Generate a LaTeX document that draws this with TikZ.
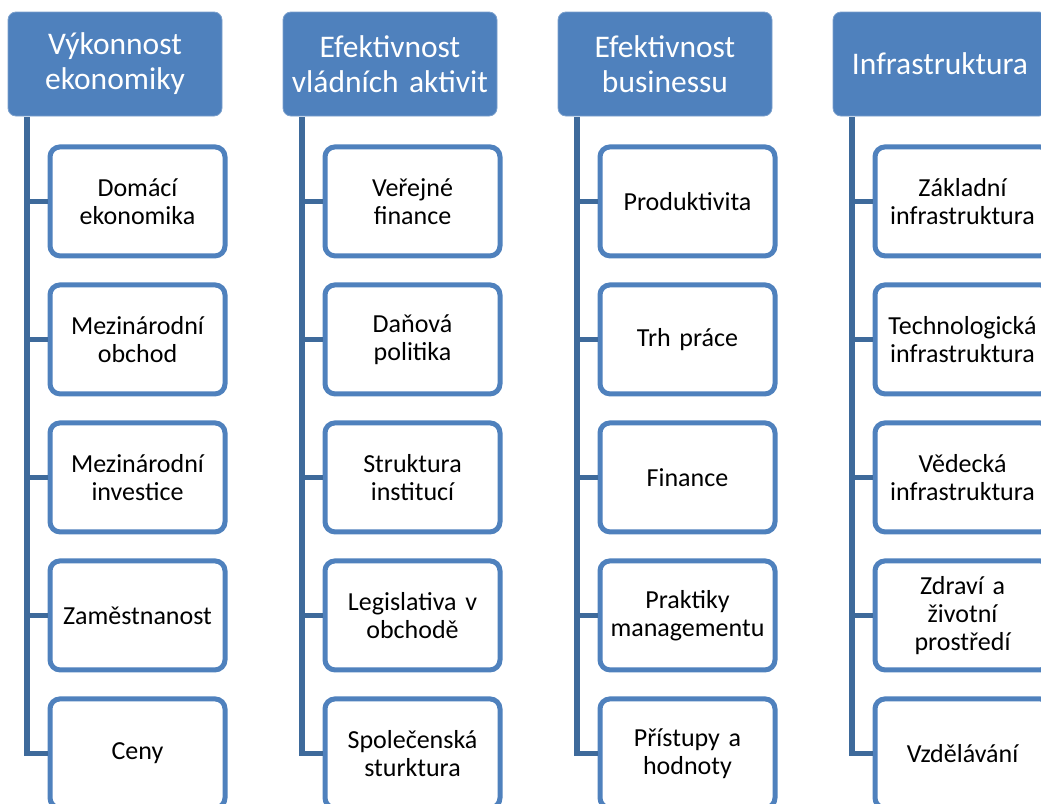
\documentclass[tikz,border=0pt]{standalone}
\usepackage{fontspec}
\setmainfont{Carlito}
\usetikzlibrary{positioning}
\definecolor{hdrblue}{HTML}{4F81BD}
\definecolor{trunkblue}{HTML}{3E6A9B}
\tikzset{
	node distance = 24pt and 24pt,
	header/.style = {rectangle, rounded corners=8pt, fill=hdrblue, draw=hdrblue!75!white, line width=0.8pt,
		minimum width=214pt, minimum height=104pt, text width=210pt, inner sep=2pt,
		align=center, text=white, font=\fontsize{31.5}{35}\selectfont},
	item/.style = {rectangle, rounded corners=10pt, draw=hdrblue, fill=white, line width=5pt,
		minimum width=175pt, minimum height=109pt, text width=168pt, inner sep=2pt,
		align=center, font=\fontsize{26}{28}\selectfont},
	trunk/.style = {draw=trunkblue, line width=5.5pt}
}

\begin{document}
\begin{tikzpicture}[x=1pt, y=-1pt]
	\useasboundingbox (0,0) rectangle (1041,803);

	% Headers
	\node (h1) [header] at (115,64) {Výkonnost\\ekonomiky};
	\node (h2) [header] at (390,64) {Efektivnost\\vládních aktivit};
	\node (h3) [header] at (665,64) {Efektivnost\\businessu};
	\node (h4) [header] at (940,64) {Infrastruktura};

	% Column 1
	\node (a1) [item, below = 28pt of h1, xshift=22.5pt] {Domácí\\ekonomika};
	\node (a2) [item, below = of a1] {Mezinárodní\\obchod};
	\node (a3) [item, below = of a2] {Mezinárodní\\investice};
	\node (a4) [item, below = of a3] {Zaměstnanost};
	\node (a5) [item, below = of a4] {Ceny};

	% Column 2
	\node (b1) [item, below = 28pt of h2, xshift=22.5pt] {Veřejné\\finance};
	\node (b2) [item, below = of b1] {Daňová\\politika};
	\node (b3) [item, below = of b2] {Struktura\\institucí};
	\node (b4) [item, below = of b3] {Legislativa v\\obchodě};
	\node (b5) [item, below = of b4] {Společenská\\sturktura};

	% Column 3
	\node (c1) [item, below = 28pt of h3, xshift=22.5pt] {Produktivita};
	\node (c2) [item, below = of c1] {Trh práce};
	\node (c3) [item, below = of c2] {Finance};
	\node (c4) [item, below = of c3] {Praktiky\\managementu};
	\node (c5) [item, below = of c4] {Přístupy a\\hodnoty};

	% Column 4
	\node (d1) [item, below = 28pt of h4, xshift=22.5pt] {Základní\\infrastruktura};
	\node (d2) [item, below = of d1] {Technologická\\infrastruktura};
	\node (d3) [item, below = of d2] {Vědecká\\infrastruktura};
	\node (d4) [item, below = of d3] {Zdraví a\\životní\\prostředí};
	\node (d5) [item, below = of d4] {Vzdělávání};

	% Connectors
	\coordinate (ta) at ([xshift=19.5pt, yshift=-1pt]h1.south west);
	\coordinate (tb) at ([xshift=19.5pt, yshift=-1pt]h2.south west);
	\coordinate (tc) at ([xshift=19.5pt, yshift=-1pt]h3.south west);
	\coordinate (td) at ([xshift=19.5pt, yshift=-1pt]h4.south west);
	\foreach \col in {a,b,c,d}{
		\foreach \i in {1,...,5}{
			\path[trunk] (t\col) |- (\col\i.west);
		}
	}
\end{tikzpicture}
\end{document}
